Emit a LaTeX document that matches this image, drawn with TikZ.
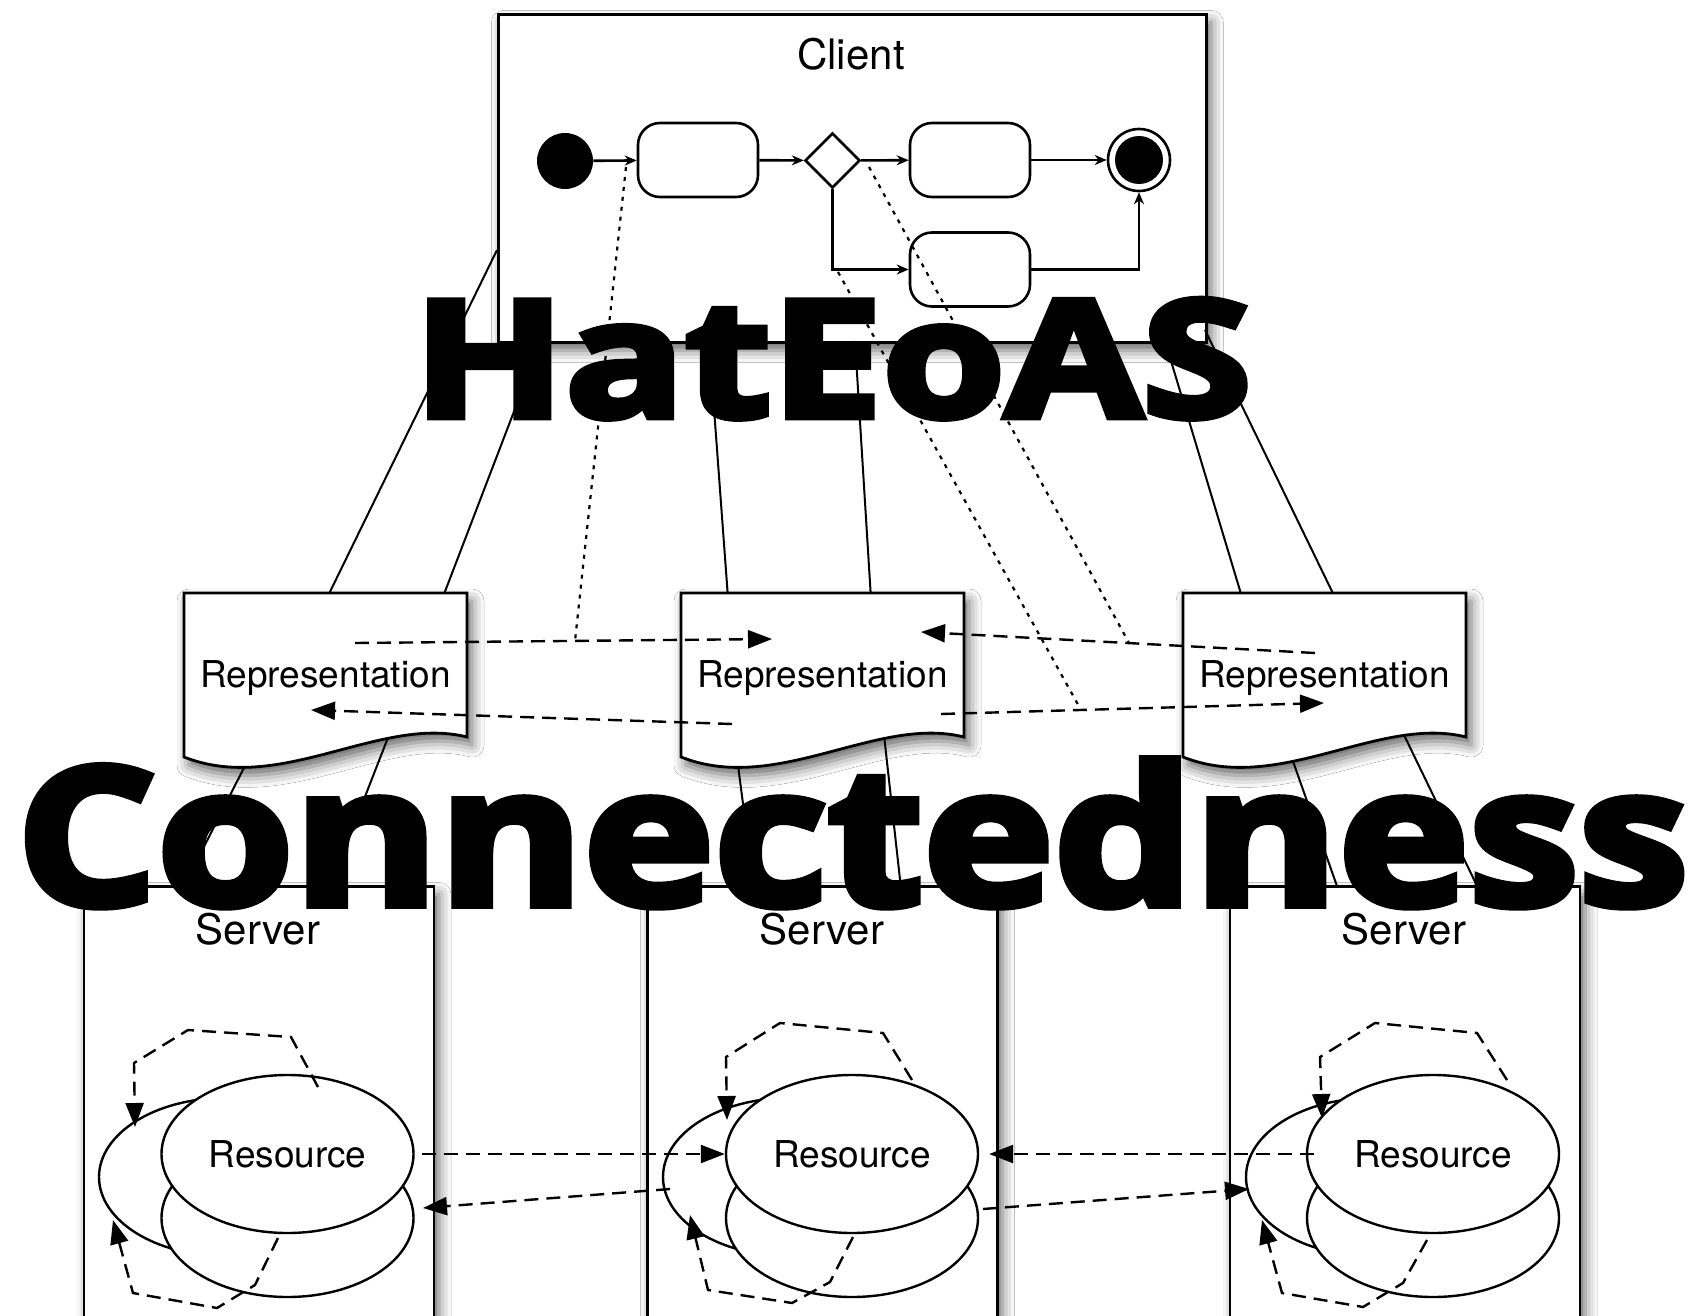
\documentclass[tikz,border=0pt]{standalone}
\usepackage{fontspec}
\usepackage{graphicx}
\setmainfont{TeX Gyre Heros}
\newfontfamily\bigfont[BoldFeatures={FakeBold=4}]{Open Sans}
\usetikzlibrary{shapes.geometric,arrows.meta,shadows.blur,calc}
\tikzset{
 boxs/.style={draw, line width=1.4pt, fill=white, blur shadow={shadow xshift=2.5pt, shadow yshift=-4pt, shadow blur radius=6pt, shadow opacity=60}},
 act/.style={draw, line width=1.3pt, fill=white, rounded corners=11pt, minimum width=60pt, minimum height=37pt, inner sep=0},
 flow/.style={line width=1.3pt, -{Stealth[length=6pt,width=5pt]}},
 res/.style={ellipse, draw, line width=1.2pt, fill=white, minimum width=126pt, minimum height=79pt, inner sep=0},
 dashl/.style={line width=1.2pt, dash pattern=on 7pt off 4pt},
 tipT/.style={-{Triangle[length=12pt,width=9pt]}},
 dotl/.style={line width=1.1pt, dash pattern=on 2pt off 3pt},
 thinl/.style={line width=1pt},
 lblA/.style={font=\fontsize{21pt}{25pt}\selectfont, inner sep=0},
 lblB/.style={font=\fontsize{18.5pt}{22pt}\selectfont, inner sep=0},
 repn/.style={minimum width=141.5pt, minimum height=82pt, inner sep=0},
 srv/.style={boxs, minimum width=175pt, minimum height=227.5pt, inner sep=0, anchor=north},
}
\begin{document}
\begin{tikzpicture}[x=0.5pt,y=-0.5pt]
\useasboundingbox (0,0) rectangle (1696,1316);
\clip (0,0) rectangle (1696,1316);
\fill[white] (0,0) rectangle (1696,1316);

% ---------- servers ----------
\node[srv] (s1) at (259,885) {};
\node[srv] (s2) at (822.5,885) {};
\node[srv] (s3) at (1405,885) {};
\node[lblA, anchor=base] (s1l) at (258,944) {Server};
\node[lblA, anchor=base] (s2l) at (822,944) {Server};
\node[lblA, anchor=base] (s3l) at (1404,944) {Server};

% resources server 1
\node[res] (s1k) at (225,1177) {};
\node[res] (s1b) at (287.5,1218) {};
\node[res, lblB] (s1t) at (287.5,1154) {Resource};
\draw[dashl, tipT] (318,1087) -- (291,1037) -- (188,1030) -- (134,1063) -- (135,1127);
\draw[dashl, tipT] (278,1238) -- (255,1285) -- (217,1308) -- (133,1293) -- (113,1220);

% resources server 2
\node[res] (s2k) at (789,1177) {};
\node[res] (s2b) at (852,1218) {};
\node[res, lblB] (s2t) at (852,1154) {Resource};
\draw[dashl, tipT] (912,1080) -- (883,1033) -- (780,1023) -- (726,1057) -- (727,1120);
\draw[dashl, tipT] (853,1237) -- (830,1282) -- (792,1303) -- (708,1290) -- (690,1215);

% resources server 3
\node[res] (s3k) at (1372,1177) {};
\node[res] (s3b) at (1433,1218) {};
\node[res, lblB] (s3t) at (1433,1154) {Resource};
\draw[dashl, tipT] (1507,1080) -- (1477,1033) -- (1375,1023) -- (1320,1057) -- (1322,1118);
\draw[dashl, tipT] (1427,1240) -- (1403,1283) -- (1363,1307) -- (1282,1293) -- (1262,1220);

% links between resources
\coordinate (q21s) at (670,1189);
\coordinate (q21e) at (423,1208);
\coordinate (q23s) at (983,1209);
\coordinate (q23e) at (1249,1189);
\draw[dashl, tipT] ([xshift=3.5pt]s1t.east) -- (s2t.west);
\draw[dashl, tipT] (q21s) -- (q21e);
\draw[dashl, tipT] ([xshift=4pt]s3t.west) -- ([xshift=5pt]s2t.east);
\draw[dashl, tipT] (q23s) -- (q23e);

% ---------- client ----------
\node[boxs, minimum width=354pt, minimum height=164pt, inner sep=0, anchor=north west] (cl) at (497,13) {};
\node[lblA, anchor=base] (cll) at (851,70) {Client};
\node[circle, fill=black, minimum size=28pt, inner sep=0] (st) at (565,161) {};
\node[act] (a1) at (698,160) {};
\node[diamond, draw, line width=1.3pt, fill=white, minimum size=27.5pt, inner sep=0, aspect=1] (dc) at (832.5,160.5) {};
\node[act] (a2) at (970,160) {};
\node[act] (a3) at (970,269.5) {};
\node[circle, draw, line width=1.3pt, fill=white, minimum size=31pt, inner sep=0] (en) at (1139,160) {};
\node[circle, fill=black, minimum size=24pt, inner sep=0] (enin) at (1139,160) {};
\draw[flow] (st) -- (a1);
\draw[flow] (a1) -- (dc);
\draw[flow] (dc) -- (a2);
\draw[flow] (a2) -- (en);
\draw[flow] (dc.south) |- (a3.west);
\draw[flow] (a3.east) -| (en.south);

% ---------- representation anchors ----------
\node[repn] (rep1) at (325.5,675) {};
\node[repn] (rep2) at (822.5,675) {};
\node[repn] (rep3) at (1324.5,675) {};

% lines client -> representations
\coordinate (c1a) at (497,250);
\coordinate (c1b) at (541,341);
\coordinate (c2a) at (709,341);
\coordinate (c2b) at (855,341);
\coordinate (c3a) at (1165,341);
\coordinate (c3b) at (1205,330);
\draw[thinl] ($(rep1.north west)+(146,0)$) -- (c1a);
\draw[thinl] ($(rep1.north west)+(261,0)$) -- (c1b);
\draw[thinl] ($(rep2.north west)+(47,0)$) -- (c2a);
\draw[thinl] ($(rep2.north west)+(190,0)$) -- (c2b);
\draw[thinl] ($(rep3.north west)+(58,0)$) -- (c3a);
\draw[thinl] ($(rep3.north west)+(150,0)$) -- (c3b);

% lines representations -> servers
\coordinate (r1la) at (258,740);
\coordinate (r1ra) at (389,735);
\coordinate (r2la) at (736,750);
\coordinate (r2ra) at (884,735);
\coordinate (r3la) at (1289,750);
\coordinate (r3ra) at (1404,735);
\draw[thinl] (r1la) -- ($(s1.north west)+(102,0)$);
\draw[thinl] (r1ra) -- ($(s1.north west)+(248,0)$);
\draw[thinl] (r2la) -- ($(s2.north west)+(107.5,0)$);
\draw[thinl] (r2ra) -- ($(s2.north west)+(254.5,0)$);
\draw[thinl] (r3la) -- ($(s3.north west)+(108,0)$);
\draw[thinl] (r3ra) -- ($(s3.north west)+(248,0)$);

% document shapes
\begin{scope}[shift={(184,0)}]
\path[boxs] (0,593) -- (283,593) -- (283,737) .. controls (196,715) and (96,795) .. (0,757) -- cycle;
\end{scope}
\begin{scope}[shift={(681,0)}]
\path[boxs] (0,593) -- (283,593) -- (283,737) .. controls (196,715) and (96,795) .. (0,757) -- cycle;
\end{scope}
\begin{scope}[shift={(1183,0)}]
\path[boxs] (0,593) -- (283,593) -- (283,737) .. controls (196,715) and (96,795) .. (0,757) -- cycle;
\end{scope}
\node[lblB, anchor=base] (rep1t) at (325.5,687) {Representation};
\node[lblB, anchor=base] (rep2t) at (822.5,687) {Representation};
\node[lblB, anchor=base] (rep3t) at (1324.5,687) {Representation};

% links between representations
\coordinate (u12s) at (355,643);
\coordinate (u12e) at (772,639);
\coordinate (l21s) at (732,724);
\coordinate (l21e) at (311,710);
\coordinate (u32s) at (1315,653);
\coordinate (u32e) at (921,632);
\coordinate (l23s) at (941,714);
\coordinate (l23e) at (1324,703);
\draw[dashl, tipT] (u12s) -- (u12e);
\draw[dashl, tipT] (l21s) -- (l21e);
\draw[dashl, tipT] (u32s) -- (u32e);
\draw[dashl, tipT] (l23s) -- (l23e);

% dotted links from client flow
\coordinate (dCs) at (626,167);
\coordinate (dCe) at (575,641);
\coordinate (dAs) at (869,167);
\coordinate (dAe) at (1129,643);
\coordinate (dBs) at (838,272);
\coordinate (dBe) at (1081,710);
\draw[dotl] (dCs) -- (dCe);
\draw[dotl] (dAs) -- (dAe);
\draw[dotl] (dBs) -- (dBe);

% ---------- titles ----------
\node[anchor=base west, inner sep=0] (hat) at (413,417) {\resizebox{419pt}{59pt}{\bigfont\bfseries HatEoAS}};
\node[anchor=base west, inner sep=0] (con) at (16,905) {\resizebox{836pt}{73pt}{\bigfont\bfseries Connectedness}};
\end{tikzpicture}
\end{document}
